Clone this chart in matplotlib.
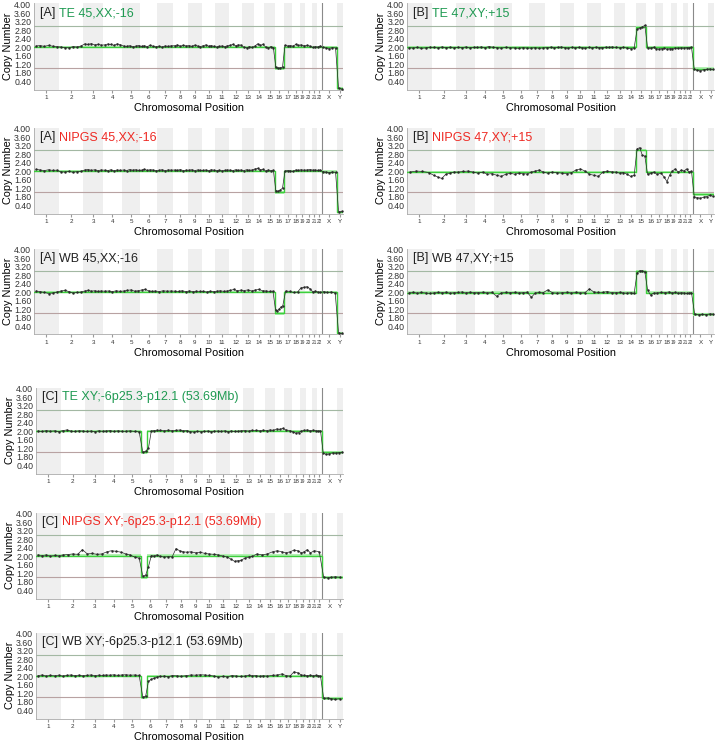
import matplotlib.pyplot as plt
import numpy as np

plt.rcParams['font.family'] = ['Liberation Sans', 'DejaVu Sans']

# chromosome sizes (Mb, hg19)
chroms = [str(i) for i in range(1, 23)] + ['X', 'Y']
chrom_len = [249, 243, 198, 191, 181, 171, 159, 146, 141, 136, 135, 134,
             115, 107, 103, 90, 81, 78, 59, 63, 48, 51, 155, 59]
ytick_vals = [0.4, 0.8, 1.2, 1.6, 2.0, 2.4, 2.8, 3.2, 3.6, 4.0]
ytick_labels = ['0.40', '1.80', '1.20', '1.60', '2.00', '2.40', '2.80', '3.20', '3.60', '4.00']

# segment call per chromosome (green line)
seg_a_te = [2.0] * 15 + [1.0] + [2.0] * 6 + [2.0, 0.05]
seg_a_nipgs = [2.0] * 15 + [1.0] + [2.0] * 6 + [1.97, 0.08]
seg_a_wb = [2.0] * 15 + [1.0] + [2.0] * 6 + [2.0, 0.06]
seg_b_te = [1.98] * 14 + [2.95] + [1.98] * 7 + [0.98, 0.98]
seg_b_nipgs = [1.95] * 14 + [3.0] + [1.95] * 7 + [0.9, 0.9]
seg_b_wb = [1.97] * 14 + [2.97] + [1.97] * 7 + [0.95, 0.95]
seg_c_te = [2.0] * 22 + [1.0, 1.0]
seg_c_nipgs = [2.02] * 22 + [1.0, 1.0]
seg_c_wb = [2.0] * 22 + [0.95, 0.95]
del_6p_mb = 53.69
del_6p_level = 1.0

# raw copy number trace, values along each chromosome
raw_a_te = [
    [2.05, 2.07, 2.03, 2.08, 2.04, 2.02], [2.0, 1.97, 1.96, 2.02, 2.0, 2.05],
    [2.15, 2.12, 2.16, 2.1, 2.13, 2.09], [2.1, 2.14, 2.12, 2.08, 2.15, 2.11],
    [2.05, 2.03, 2.06, 2.02, 2.04, 2.07], [2.03, 2.06, 2.02, 2.08, 2.04, 2.01],
    [2.04, 2.0, 2.05, 2.03, 2.06], [2.06, 2.1, 2.04, 2.08, 2.05],
    [2.07, 2.03, 2.09, 2.05, 2.02], [2.06, 2.1, 2.04, 2.07, 2.03],
    [2.0, 2.03, 2.05, 2.02, 2.06], [2.08, 2.12, 2.06, 2.1, 2.09],
    [2.0, 1.96, 2.02, 1.98], [2.05, 2.15, 2.08, 2.12], [2.0, 1.95, 2.02, 1.97],
    [1.05, 1.0, 1.02, 1.06], [2.08, 2.05, 2.07], [2.04, 2.12, 2.08],
    [2.1, 2.06], [2.08, 2.04], [1.98, 2.02], [2.0, 2.05],
    [1.98, 1.95, 1.93, 1.97, 1.95], [0.05, 0.02]]
raw_a_nipgs = [
    [2.08, 2.05, 2.02, 2.06, 2.03, 2.04], [1.96, 1.95, 1.98, 1.94, 1.97, 1.99],
    [2.05, 2.07, 2.03, 2.06, 2.02, 2.05], [2.04, 2.02, 2.06, 2.01, 2.05, 2.03],
    [2.05, 2.02, 2.07, 2.04, 2.06, 2.03], [2.04, 2.08, 2.03, 2.06, 2.05, 2.02],
    [2.03, 2.06, 2.02, 2.05, 2.04], [2.05, 2.03, 2.07, 2.02, 2.04],
    [2.04, 2.06, 2.02, 2.05, 2.03], [2.03, 2.05, 2.02, 2.06, 2.04],
    [2.02, 2.04, 2.01, 2.03, 2.05], [2.04, 2.02, 2.06, 2.03, 2.05],
    [2.02, 2.06, 2.03, 2.05], [2.1, 2.12, 2.06, 2.08], [2.0, 2.05, 2.02, 2.04],
    [1.08, 1.05, 1.1, 1.2], [2.0, 2.02, 2.01], [1.98, 2.05, 2.03],
    [2.06, 2.04], [2.05, 2.07], [2.04, 2.05], [2.03, 2.05],
    [1.97, 1.95, 1.92, 1.96, 1.94], [0.08, 0.1]]
raw_a_wb = [
    [2.05, 2.02, 1.98, 1.93, 1.95, 2.0], [2.05, 2.08, 2.02, 1.95, 1.98, 2.0],
    [2.05, 2.08, 2.04, 2.06, 2.03, 2.05], [2.04, 2.05, 2.02, 2.06, 2.03],
    [2.05, 2.08, 2.1, 2.04, 2.06], [2.1, 2.12, 2.06, 2.03, 2.05],
    [2.02, 2.06, 2.04, 2.05], [2.04, 2.03, 2.06, 2.02],
    [2.05, 2.02, 2.04, 2.03], [2.03, 2.0, 2.04, 2.02],
    [2.04, 2.06, 2.03, 2.05], [2.08, 2.12, 2.06, 2.09],
    [2.07, 2.1, 2.05], [2.1, 2.12, 2.06], [2.05, 2.03, 2.04],
    [1.15, 1.1, 1.2, 1.3, 1.35], [2.05, 2.03], [1.98, 2.0],
    [2.2, 2.22], [2.25, 2.15], [2.0, 2.05], [2.0, 1.98],
    [2.02, 1.98, 2.0, 1.95], [0.08, 0.05]]
raw_b_te = [
    [1.97, 1.95, 1.98, 1.94, 1.96, 1.99], [1.98, 1.96, 2.0, 1.97, 1.99, 1.96],
    [1.99, 1.97, 2.0, 1.96, 1.98], [1.98, 2.0, 1.97, 2.02, 1.99],
    [1.97, 1.95, 1.98, 1.96], [1.96, 1.94, 1.97, 1.95],
    [1.95, 1.97, 1.94, 1.96], [1.97, 1.99, 1.96, 1.98],
    [2.0, 1.97, 1.95, 1.98], [1.96, 1.98, 1.97, 1.95],
    [1.98, 1.96, 1.99, 1.97], [1.97, 1.99, 1.98, 2.0],
    [1.98, 1.96, 1.99], [1.95, 1.93, 1.96], [2.85, 2.9, 2.95, 3.02],
    [1.97, 1.95, 1.98], [1.92, 1.9, 1.93], [1.94, 1.9, 1.92],
    [1.93, 1.95], [1.94, 1.96], [1.95, 1.97], [1.96, 1.98],
    [0.95, 0.9, 0.88, 0.93, 0.95], [0.97, 0.95]]
raw_b_nipgs = [
    [1.95, 2.0, 1.98, 1.93], [1.8, 1.72, 1.65, 1.85, 1.9, 1.95],
    [1.95, 1.98, 2.0, 1.95], [1.9, 1.95, 1.85, 1.88],
    [1.8, 1.75, 1.85, 1.9], [1.85, 1.9, 1.88, 1.86],
    [1.95, 2.0, 2.05, 1.95], [1.9, 1.95, 1.92],
    [1.9, 1.88, 1.92], [2.05, 2.1, 2.0],
    [1.85, 1.8, 1.75], [1.95, 2.0, 1.96],
    [1.95, 1.9, 1.93], [1.85, 1.75, 1.8], [3.05, 3.1, 2.75, 2.7],
    [1.85, 1.9, 1.95], [1.85, 1.9], [1.7, 1.5, 1.8],
    [2.0, 2.1], [1.95, 2.05], [2.0, 2.1], [1.95, 1.98],
    [0.78, 0.75, 0.72, 0.77, 0.8], [0.85, 0.82]]
raw_b_wb = [
    [1.97, 1.99, 1.95, 1.98, 1.96, 1.94], [1.96, 1.98, 1.97, 1.99, 1.95, 1.97],
    [1.98, 2.0, 1.96, 1.99, 1.97], [1.97, 1.99, 1.96, 1.98],
    [1.8, 1.96, 1.98, 1.97], [1.98, 1.96, 1.97, 1.99],
    [1.75, 1.96, 1.98, 1.97], [2.1, 1.97, 1.95],
    [1.97, 1.99, 1.96], [1.98, 1.96, 1.97],
    [2.15, 2.0, 1.98], [1.98, 2.02, 1.97],
    [1.97, 1.99, 1.96], [1.95, 1.97, 1.94], [2.9, 3.0, 3.0, 2.95],
    [2.1, 1.85, 1.95], [1.96, 1.98], [1.97, 2.0],
    [1.96, 1.98], [1.95, 1.97], [1.96, 1.94], [1.95, 1.97],
    [0.95, 0.93, 0.95, 0.94], [0.97, 0.96]]
raw_c_te = [
    [2.0, 1.98, 2.02, 1.99, 2.01, 1.97], [2.02, 2.05, 2.0, 1.98, 2.01, 2.0],
    [1.98, 2.0, 1.97, 2.01, 1.99], [2.0, 2.02, 1.98, 2.01, 1.99],
    [1.99, 2.01, 1.98, 1.96], [1.0, 1.05, 1.2, 2.0, 2.02, 2.04],
    [2.03, 2.01, 2.04, 2.02], [2.03, 2.05, 2.01, 2.02],
    [1.97, 1.95, 1.98, 1.96], [1.98, 2.0, 1.97, 1.99],
    [2.0, 1.98, 2.01, 1.97], [2.0, 1.98, 1.99, 2.01],
    [2.02, 2.0, 2.03], [2.03, 2.01, 2.04], [2.02, 2.05, 2.03],
    [2.1, 2.08, 2.12], [2.05, 2.02], [1.95, 1.9, 1.93],
    [2.0, 2.03], [2.05, 2.02], [2.04, 2.02], [2.0, 2.01],
    [0.95, 0.9, 0.93, 0.97, 0.96], [0.98, 0.99]]
raw_c_nipgs = [
    [2.05, 2.02, 2.05, 2.0, 2.03, 2.01], [2.05, 2.07, 2.1, 2.08, 2.3],
    [2.1, 2.12, 2.08, 2.1], [2.2, 2.25, 2.22, 2.18],
    [2.1, 2.05, 1.95, 1.9], [1.05, 1.1, 1.5, 2.02, 2.0, 2.05],
    [1.98, 1.95, 1.97, 1.96], [2.35, 2.25, 2.2, 2.18],
    [2.2, 2.15, 2.18], [2.12, 2.1, 2.08],
    [2.05, 2.0, 1.95], [1.85, 1.75, 1.78, 1.8],
    [1.9, 1.95, 1.98], [2.1, 2.05], [2.1, 2.2],
    [2.25, 2.2], [2.15, 2.2], [2.28, 2.25],
    [2.15, 2.2], [2.3, 2.15], [2.25], [2.2],
    [1.0, 0.97, 1.0, 1.02], [1.0]]
raw_c_wb = [
    [2.02, 2.05, 2.0, 2.03, 2.01, 2.04], [2.0, 2.03, 2.05, 2.02, 2.04, 2.01],
    [2.03, 2.05, 2.02, 2.04, 2.03], [2.05, 2.04, 2.06, 2.03, 2.05],
    [2.06, 2.04, 2.05, 2.03], [1.0, 1.05, 1.75, 1.85, 1.9, 1.95],
    [1.98, 2.0, 1.97, 2.02], [2.01, 1.99, 2.02],
    [2.05, 2.04, 2.06], [2.05, 2.03, 2.0],
    [1.95, 1.98, 1.96], [2.02, 2.0, 1.98],
    [2.0, 2.03, 2.01], [2.02, 1.99, 2.01], [2.0, 2.03],
    [2.05, 2.1], [2.02, 2.0], [2.2, 2.15],
    [2.05, 2.03], [2.02, 2.04], [2.01, 2.03], [2.02, 2.0],
    [0.95, 0.97, 0.93, 0.9], [0.93]]

starts = np.concatenate([[0], np.cumsum(chrom_len)[:-1]])
ends = np.cumsum(chrom_len)
total = ends[-1]

TE_COLOR = '#1f9a52'
NIPGS_COLOR = '#ee2a24'


def segments(seg, del6p):
    segs = []
    for i in range(len(chroms)):
        if del6p and i == 5:
            segs.append((starts[i], starts[i] + del_6p_mb, del_6p_level))
            segs.append((starts[i] + del_6p_mb, ends[i], seg[i]))
        else:
            segs.append((starts[i], ends[i], seg[i]))
    return segs


def draw_panel(ax, tag, name, color, raw, seg, del6p=False):
    for i in range(len(chroms)):
        if i % 2 == 0 and i != 22 or i == 23:
            ax.axvspan(starts[i], ends[i], color='#efefef', lw=0, zorder=0)
    ax.axhline(3, color='#a3b8a3', lw=0.8, zorder=1)
    ax.axhline(1, color='#b8a2a2', lw=0.8, zorder=1)
    ax.axvline(starts[22], color='#8a8a8a', lw=0.8, zorder=1)

    segs = segments(seg, del6p)
    gx, gy = [], []
    for s, e, v in segs:
        gx += [s, e]
        gy += [v, v]
    gx = np.array(gx)
    gy = np.array(gy)

    rx, ry = [], []
    for i, vals in enumerate(raw):
        n = len(vals)
        for k, v in enumerate(vals):
            rx.append(starts[i] + (k + 0.5) / n * chrom_len[i])
            ry.append(v)

    ax.fill_between(gx, gy - 0.06, gy + 0.06, color='#b4f0b4', lw=0, zorder=2)
    ax.plot(gx, gy, color='#3ccf3c', lw=1.0, zorder=3)
    ax.plot(rx, ry, color='#2a2a2a', lw=0.5, marker='.', ms=1.5, zorder=4)

    ax.set_xlim(0, total)
    ax.set_ylim(0, 4.05)
    ax.set_yticks(ytick_vals)
    ax.set_yticklabels(ytick_labels, fontsize=6.3, color='#333333')
    ax.set_xticks((starts + ends) / 2)
    ax.set_xticklabels(chroms, fontsize=4.5, color='#333333')
    for i, lab in enumerate(ax.get_xticklabels()):
        if 18 <= i <= 21:
            lab.set_fontsize(3.4)
    ax.tick_params(axis='y', length=0, pad=2)
    ax.tick_params(axis='x', length=2, pad=2, color='#999999')
    for side in ['top', 'right']:
        ax.spines[side].set_visible(False)
    for side in ['left', 'bottom']:
        ax.spines[side].set_color('#aaaaaa')
        ax.spines[side].set_linewidth(0.6)
    ax.set_ylabel('Copy Number', fontsize=7.8, labelpad=1)
    ax.set_xlabel('Chromosomal Position', fontsize=7.8, labelpad=2)

    t1 = ax.text(0.02, 0.885, tag + ' ', transform=ax.transAxes, fontsize=9,
                 color='#222222', va='center', ha='left')
    ax.annotate(name, xy=(1, 0), xycoords=t1, fontsize=9, color=color,
                va='bottom', ha='left')


fig = plt.figure(figsize=(7.15, 7.43), dpi=100)
W, H = 715, 743


def add_axes(x0, w, bottom_px):
    h = 86
    return fig.add_axes([x0 / W, 1 - bottom_px / H, w / W, h / H])


panels = [
    (34, 309, 89.5, '[A]', 'TE 45,XX;-16', TE_COLOR, raw_a_te, seg_a_te, False),
    (34, 309, 213.5, '[A]', 'NIPGS 45,XX;-16', NIPGS_COLOR, raw_a_nipgs, seg_a_nipgs, False),
    (34, 309, 334.5, '[A]', 'WB 45,XX;-16', '#222222', raw_a_wb, seg_a_wb, False),
    (407, 307, 89.5, '[B]', 'TE 47,XY;+15', TE_COLOR, raw_b_te, seg_b_te, False),
    (407, 307, 213.5, '[B]', 'NIPGS 47,XY;+15', NIPGS_COLOR, raw_b_nipgs, seg_b_nipgs, False),
    (407, 307, 334.5, '[B]', 'WB 47,XY;+15', '#222222', raw_b_wb, seg_b_wb, False),
    (36, 307, 473.5, '[C]', 'TE XY;-6p25.3-p12.1 (53.69Mb)', TE_COLOR, raw_c_te, seg_c_te, True),
    (36, 307, 598.5, '[C]', 'NIPGS XY;-6p25.3-p12.1 (53.69Mb)', NIPGS_COLOR, raw_c_nipgs, seg_c_nipgs, True),
    (36, 307, 718.5, '[C]', 'WB XY;-6p25.3-p12.1 (53.69Mb)', '#222222', raw_c_wb, seg_c_wb, True),
]

for x0, w, b, tag, name, color, raw, seg, d in panels:
    ax = add_axes(x0, w, b)
    draw_panel(ax, tag, name, color, raw, seg, d)

fig.savefig('out.png', dpi=100)
